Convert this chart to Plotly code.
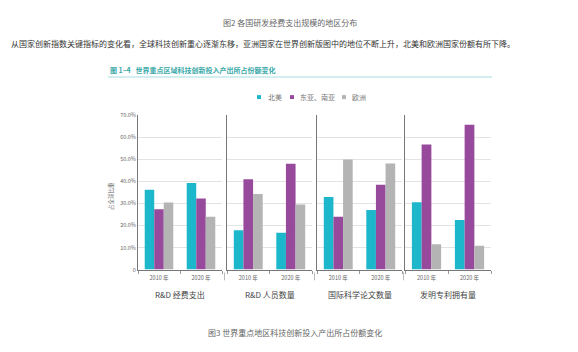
import plotly.graph_objects as go

W, H = 578, 352

years = ["2010 年", "2020 年"]
panels = ["R&D 经费支出", "R&D 人员数量", "国际科学论文数量", "发明专利拥有量"]
regions = ["北美", "东亚、南亚", "欧洲"]
colors = ["#1db7cc", "#974a9c", "#b4b4b4"]

# share (%) per panel: [2010, 2020]
north_america = [[36.2, 39.3], [17.9, 16.7], [33.0, 27.1], [30.6, 22.5]]
east_south_asia = [[27.4, 32.3], [41.0, 48.1], [24.0, 38.5], [56.8, 65.8]]
europe = [[30.5, 24.0], [34.3, 29.6], [50.0, 48.2], [11.5, 10.8]]
series = [north_america, east_south_asia, europe]

y_ticks = [0, 10, 20, 30, 40, 50, 60, 70]
y_tick_text = ["0", "10.0%", "20.0%", "30.0%", "40.0%", "50.0%", "60.0%", "70.0%"]

def px(x):
    return x / W

def py(y):
    return 1 - y / H

panel_px = [(138, 222), (227, 312), (317, 402), (405, 491)]
y_top, y_bot = 114, 272

fig = go.Figure()
layout = dict(
    width=W, height=H, margin=dict(l=0, r=0, t=0, b=0),
    paper_bgcolor="white", plot_bgcolor="white",
    barmode="group", bargap=0.32, bargroupgap=0,
    showlegend=False,
    font=dict(family="Noto Sans CJK SC", color="#555"),
)

for i, (x0, x1) in enumerate(panel_px):
    sfx = "" if i == 0 else str(i + 1)
    for r, name in enumerate(regions):
        fig.add_trace(go.Bar(
            x=years, y=series[r][i], name=name,
            marker=dict(color=colors[r], line=dict(width=0)),
            xaxis="x" + sfx, yaxis="y" + sfx, showlegend=False,
        ))
    layout["xaxis" + sfx] = dict(
        domain=[px(x0), px(x1)], anchor="y" + sfx,
        showline=True, linecolor="#777", linewidth=1,
        ticks="outside", tickson="boundaries", ticklen=3, tickcolor="#999",
        ticklabelstandoff=3,
        tickfont=dict(size=5.5, color="#666"), showgrid=False,
        fixedrange=True,
    )
    layout["yaxis" + sfx] = dict(
        domain=[py(y_bot), py(y_top)], anchor="x" + sfx,
        range=[0, 70.3], tickvals=y_ticks, ticktext=y_tick_text,
        showticklabels=(i == 0), tickfont=dict(size=5.5, color="#666"),
        showline=True, linecolor="#777", linewidth=1,
        showgrid=True, gridcolor="#e3e3e3", gridwidth=1,
        zeroline=False, ticks="", fixedrange=True,
    )

annotations = []
shapes = []

def text(x, y, s, size, color, xanchor="center", **kw):
    annotations.append(dict(
        x=px(x), y=py(y), xref="paper", yref="paper", text=s, showarrow=False,
        xanchor=xanchor, yanchor="middle", font=dict(size=size, color=color), **kw))

# page texts
text(290, 20, "图2 各国研发经费支出规模的地区分布", 8, "#666")
text(9, 41, "从国家创新指数关键指标的变化看，全球科技创新重心逐渐东移，亚洲国家在世界创新版图中的地位不断上升，北美和欧洲国家份额有所下降。", 8, "#333", xanchor="left")
text(108, 68, "<b>图 1–4   世界重点区域科技创新投入产出所占份额变化</b>", 7, "#3aa9a8", xanchor="left")
shapes.append(dict(type="line", xref="paper", yref="paper", x0=px(108), x1=px(492),
                   y0=py(75.5), y1=py(75.5), line=dict(color="#d3eeee", width=2)))

# legend
leg_sq = [257, 290, 342]
leg_tx = [266, 298, 350]
for r, name in enumerate(regions):
    shapes.append(dict(type="rect", xref="paper", yref="paper",
                       x0=px(leg_sq[r]), x1=px(leg_sq[r] + 4), y0=py(98), y1=py(94),
                       fillcolor=colors[r], line=dict(width=0)))
    text(leg_tx[r], 96, name, 7, "#777", xanchor="left")

# y axis title
text(111, 197, "占全球比重", 5.5, "#666", textangle=-90)

# panel titles and separators
for i, (x0, x1) in enumerate(panel_px):
    text((x0 + x1) / 2, 297, panels[i], 8, "#444")
for xs in [224.5, 314.5, 403.5]:
    shapes.append(dict(type="line", xref="paper", yref="paper", x0=px(xs), x1=px(xs),
                       y0=py(275), y1=py(283), line=dict(color="#bbb", width=1)))

text(295, 336, "图3 世界重点地区科技创新投入产出所占份额变化", 8, "#666")

layout["annotations"] = annotations
layout["shapes"] = shapes
fig.update_layout(**layout)
fig.write_html("out.html")
